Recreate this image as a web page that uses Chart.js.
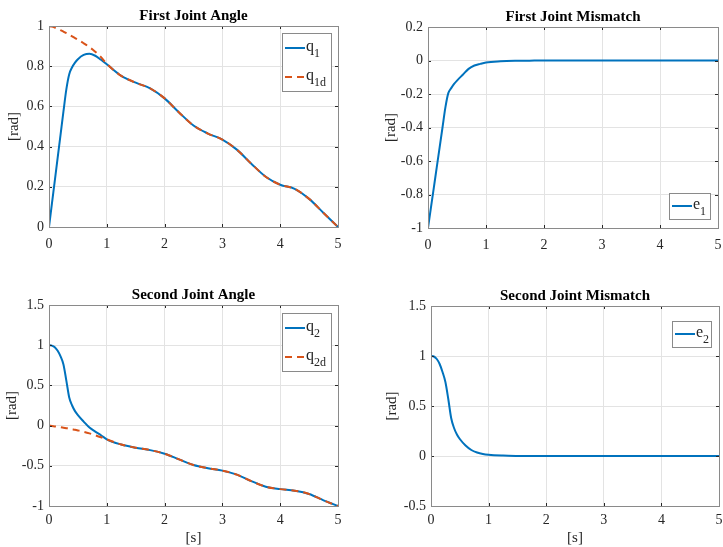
<!DOCTYPE html>
<html>
<head>
<meta charset="utf-8">
<script src="https://cdn.jsdelivr.net/npm/chart.js@4/dist/chart.umd.min.js"></script>
<style>
  html, body { margin: 0; padding: 0; background: #fff; }
  #wrap { position: relative; width: 723px; height: 547px; overflow: hidden; }
  .cell { position: absolute; }
</style>
</head>
<body>
<div id="wrap">
  <div class="cell" style="left:0;top:0;width:361px;height:273px"><canvas id="c1"></canvas></div>
  <div class="cell" style="left:361px;top:0;width:362px;height:273px"><canvas id="c2"></canvas></div>
  <div class="cell" style="left:0;top:273px;width:361px;height:274px"><canvas id="c3"></canvas></div>
  <div class="cell" style="left:361px;top:273px;width:362px;height:274px"><canvas id="c4"></canvas></div>
</div>
<script>
// time samples [s]
const time = [0, 0.05, 0.1, 0.15, 0.2, 0.25, 0.3, 0.35, 0.4, 0.45, 0.5, 0.6, 0.7, 0.8, 0.9, 1.0,
  1.25, 1.5, 1.75, 2.0, 2.25, 2.5, 2.75, 3.0, 3.25, 3.5, 3.75, 4.0, 4.25, 4.5, 4.75, 5.0];

// first joint
const q1 = [0, 0.115, 0.23, 0.345, 0.46, 0.575, 0.685, 0.76, 0.795, 0.818, 0.835, 0.856, 0.862, 0.852, 0.832, 0.81,
  0.752, 0.718, 0.69, 0.64, 0.57, 0.505, 0.465, 0.435, 0.385, 0.315, 0.25, 0.21, 0.19, 0.14, 0.07, 0.0];
const q1d = [1.0, 0.997, 0.992, 0.986, 0.979, 0.972, 0.964, 0.956, 0.948, 0.94, 0.932, 0.914, 0.895, 0.872, 0.845, 0.812,
  0.752, 0.718, 0.69, 0.64, 0.57, 0.505, 0.465, 0.435, 0.385, 0.315, 0.25, 0.21, 0.19, 0.14, 0.07, 0.0];
const e1 = [-1, -0.88, -0.76, -0.64, -0.52, -0.4, -0.28, -0.195, -0.165, -0.14, -0.12, -0.085, -0.05, -0.03, -0.02, -0.012,
  -0.005, -0.002, -0.001, 0, 0, 0, 0, 0, 0, 0, 0, 0, 0, 0, 0, 0];

// second joint
const q2 = [1.0, 0.995, 0.975, 0.93, 0.86, 0.76, 0.56, 0.35, 0.25, 0.18, 0.13, 0.05, -0.025, -0.075, -0.12, -0.17,
  -0.235, -0.275, -0.305, -0.35, -0.42, -0.49, -0.53, -0.56, -0.61, -0.69, -0.76, -0.79, -0.81, -0.85, -0.93, -1.0];
const q2d = [0, -0.005, -0.01, -0.015, -0.02, -0.026, -0.032, -0.038, -0.045, -0.052, -0.06, -0.077, -0.097, -0.12, -0.145, -0.172,
  -0.235, -0.275, -0.305, -0.35, -0.42, -0.49, -0.53, -0.56, -0.61, -0.69, -0.76, -0.79, -0.81, -0.85, -0.93, -1.0];
const e2 = [1, 0.995, 0.97, 0.92, 0.84, 0.74, 0.57, 0.38, 0.28, 0.215, 0.17, 0.105, 0.06, 0.035, 0.02, 0.012,
  0.004, 0.001, 0, 0, 0, 0, 0, 0, 0, 0, 0, 0, 0, 0, 0, 0];

// axis ranges / ticks
const xTicks = [0, 1, 2, 3, 4, 5];
const yRange1 = [0, 1, 0.2];
const yRange2 = [-1, 0.2, 0.2];
const yRange3 = [-1, 1.5, 0.5];
const yRange4 = [-0.5, 1.5, 0.5];

const BLUE = '#0072BD';
const ORANGE = '#D95319';
const TXT = '#262626';
const SERIF = "'Liberation Serif', 'Times New Roman', serif";

function pts(ys) {
  return time.map((x, i) => ({ x: x, y: ys[i] }));
}

// box, inward ticks, title and legend in the MATLAB manner
const matlabAxes = {
  id: 'matlabAxes',
  afterDraw(chart, args, opts) {
    const ctx = chart.ctx;
    const a = chart.chartArea;
    const xs = chart.scales.x, ys = chart.scales.y;
    ctx.save();
    ctx.strokeStyle = '#262626';
    ctx.lineWidth = 1;
    ctx.beginPath();
    xs.ticks.forEach(t => {
      const px = Math.round(xs.getPixelForValue(t.value)) + 0.5;
      ctx.moveTo(px, a.bottom); ctx.lineTo(px, a.bottom - 3);
      ctx.moveTo(px, a.top); ctx.lineTo(px, a.top + 3);
    });
    ys.ticks.forEach(t => {
      const py = Math.round(ys.getPixelForValue(t.value)) + 0.5;
      ctx.moveTo(a.left, py); ctx.lineTo(a.left + 3, py);
      ctx.moveTo(a.right, py); ctx.lineTo(a.right - 3, py);
    });
    ctx.stroke();
    ctx.strokeStyle = '#8a8a8a';
    ctx.strokeRect(Math.round(a.left) + 0.5, Math.round(a.top) + 0.5,
      Math.round(a.right - a.left), Math.round(a.bottom - a.top));

    // title
    ctx.fillStyle = '#000';
    ctx.font = 'bold 15px ' + SERIF;
    ctx.textAlign = 'center';
    ctx.textBaseline = 'middle';
    ctx.fillText(opts.title, (a.left + a.right) / 2, a.top - 10);

    // legend
    const lg = opts.legend;
    const rowH = 29;
    const h = lg.rows.length === 1 ? 26 : 58;
    const w = lg.width;
    const bx = a.right - lg.insetX - w;
    const by = lg.pos === 'bottom' ? a.bottom - lg.insetY - h : a.top + lg.insetY;
    ctx.fillStyle = '#fff';
    ctx.fillRect(bx, by, w, h);
    ctx.strokeStyle = '#8a8a8a';
    ctx.strokeRect(Math.round(bx) + 0.5, Math.round(by) + 0.5, w, h);
    lg.rows.forEach((r, i) => {
      const ds = chart.data.datasets[r.ds];
      const cy = by + (h === 26 ? 13 : 15 + i * rowH);
      ctx.strokeStyle = ds.borderColor;
      ctx.lineWidth = 2;
      ctx.setLineDash(ds.borderDash || []);
      ctx.beginPath();
      ctx.moveTo(bx + 3, cy); ctx.lineTo(bx + 23, cy);
      ctx.stroke();
      ctx.setLineDash([]);
      ctx.fillStyle = TXT;
      ctx.textAlign = 'left';
      ctx.textBaseline = 'alphabetic';
      ctx.font = '16px ' + SERIF;
      ctx.fillText(r.base, bx + 24, cy + 3);
      const bw = ctx.measureText(r.base).width;
      ctx.font = '12px ' + SERIF;
      ctx.fillText(r.sub, bx + 24 + bw, cy + 9);
    });
    ctx.restore();
  }
};

function makeChart(id, cfg) {
  const datasets = cfg.series.map((s, i) => ({
    label: s.label,
    data: pts(s.data),
    borderColor: s.color,
    borderWidth: 2,
    borderDash: s.dash,
    pointRadius: 0,
    fill: false,
    cubicInterpolationMode: 'monotone',
    order: s.dash ? 0 : 1
  }));
  return new Chart(document.getElementById(id), {
    type: 'line',
    data: { datasets: datasets },
    plugins: [matlabAxes],
    options: {
      responsive: true,
      maintainAspectRatio: false,
      animation: false,
      events: [],
      layout: { padding: cfg.padding },
      plugins: {
        legend: { display: false },
        title: { display: false },
        tooltip: { enabled: false },
        matlabAxes: { title: cfg.title, legend: cfg.legend }
      },
      scales: {
        x: {
          type: 'linear',
          min: 0, max: 5,
          afterBuildTicks: s => { s.ticks = xTicks.map(v => ({ value: v })); },
          afterFit: s => { s.height = cfg.xHeight; s.paddingLeft = 0; s.paddingRight = 0; },
          ticks: { color: TXT, font: { family: SERIF, size: 14 }, padding: cfg.xPad, maxRotation: 0 },
          grid: { color: '#e3e3e3', drawTicks: false },
          border: { display: false },
          title: {
            display: !!cfg.xTitle, text: cfg.xTitle || '', color: TXT,
            font: { family: SERIF, size: 15, lineHeight: 1 }, padding: 0
          }
        },
        y: {
          min: cfg.y[0], max: cfg.y[1],
          ticks: {
            stepSize: cfg.y[2], color: TXT, font: { family: SERIF, size: 14 }, padding: 5,
            callback: v => String(Math.round(v * 10) / 10)
          },
          afterFit: s => { s.width = cfg.yWidth; },
          grid: { color: '#e3e3e3', drawTicks: false },
          border: { display: false },
          title: {
            display: true, text: '[rad]', color: TXT,
            font: { family: SERIF, size: 15, lineHeight: 1 }, padding: 0
          }
        }
      }
    }
  });
}

makeChart('c1', {
  title: 'First Joint Angle',
  series: [
    { label: 'q1', data: q1, color: BLUE },
    { label: 'q1d', data: q1d, color: ORANGE, dash: [7, 5] }
  ],
  legend: { pos: 'top', insetX: 7, insetY: 7, width: 49, rows: [{ ds: 0, base: 'q', sub: '1' }, { ds: 1, base: 'q', sub: '1d' }] },
  y: yRange1,
  padding: { left: 7, top: 26, right: 23, bottom: 0 },
  yWidth: 42, xHeight: 46, xPad: 9
});

makeChart('c2', {
  title: 'First Joint Mismatch',
  series: [{ label: 'e1', data: e1, color: BLUE }],
  legend: { pos: 'bottom', insetX: 8, insetY: 9, width: 41, rows: [{ ds: 0, base: 'e', sub: '1' }] },
  y: yRange2,
  padding: { left: 23, top: 27, right: 5, bottom: 0 },
  yWidth: 44, xHeight: 45, xPad: 9
});

makeChart('c3', {
  title: 'Second Joint Angle',
  series: [
    { label: 'q2', data: q2, color: BLUE },
    { label: 'q2d', data: q2d, color: ORANGE, dash: [7, 5] }
  ],
  legend: { pos: 'top', insetX: 7, insetY: 8, width: 49, rows: [{ ds: 0, base: 'q', sub: '2' }, { ds: 1, base: 'q', sub: '2d' }] },
  y: yRange3,
  xTitle: '[s]',
  padding: { left: 5, top: 32, right: 23, bottom: 1 },
  yWidth: 44, xHeight: 40, xPad: 6
});

makeChart('c4', {
  title: 'Second Joint Mismatch',
  series: [{ label: 'e2', data: e2, color: BLUE }],
  legend: { pos: 'top', insetX: 8, insetY: 15, width: 39, rows: [{ ds: 0, base: 'e', sub: '2' }] },
  y: yRange4,
  xTitle: '[s]',
  padding: { left: 24, top: 33, right: 4, bottom: 1 },
  yWidth: 46, xHeight: 40, xPad: 6
});
</script>
</body>
</html>
